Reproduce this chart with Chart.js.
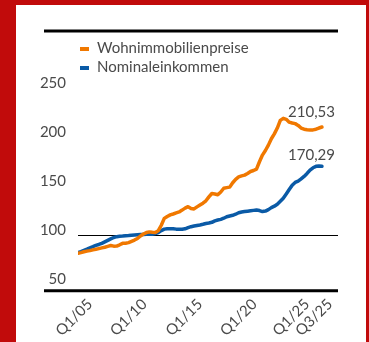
<!DOCTYPE html>
<html lang="de">
<head>
  <meta charset="UTF-8">
  <title>Wohnimmobilienpreise und Nominaleinkommen</title>
  <style>
    html, body { margin: 0; padding: 0; }
    body { width: 369px; height: 342px; background: #c10b0b; position: relative; overflow: hidden; font-family: Lato, sans-serif; }
    .panel { position: absolute; left: 16px; top: 5px; width: 350px; height: 337px; background: #fff; }
    .chart-box { position: absolute; left: 0; top: 0; width: 350px; height: 337px; }
    #legende { position: absolute; left: 64px; top: 33px; font-size: 15px; line-height: 19px; color: #4a4a4a; }
    #legende .eintrag { white-space: nowrap; }
    #legende .farbe { display: inline-block; width: 9px; height: 4px; margin-right: 8px; vertical-align: middle; }
  </style>
</head>
<body>
  <div class="panel">
    <div class="chart-box"><canvas id="grafico"></canvas></div>
    <div id="legende"></div>
  </div>

  <script src="https://cdn.jsdelivr.net/npm/chart.js"></script>

  <script>
    // Quartale Q1/05 bis Q3/25
    const quartale = [];
    for (let j = 5; j <= 25; j++) {
      for (let q = 1; q <= 4; q++) {
        if (j === 25 && q > 3) break;
        quartale.push("Q" + q + "/" + String(j).padStart(2, "0"));
      }
    }

    const wohnimmobilienpreise = [
      81.3, 82.0, 82.8, 83.5, 84.0, 84.8, 85.4, 86.1, 86.8, 87.5,
      88.4, 89.2, 88.6, 88.7, 90.0, 91.5, 91.6, 92.2, 93.5, 94.8,
      96.5, 99.0, 101.0, 102.5, 103.2, 102.8, 102.5, 104.5, 110.0, 117.0,
      119.0, 120.6, 121.5, 122.6, 123.6, 125.5, 127.5, 129.0, 127.2, 126.7,
      128.8, 130.7, 132.6, 135.0, 139.0, 142.5, 142.0, 141.2, 144.0, 147.9,
      148.5, 149.0, 153.5, 157.0, 159.5, 160.5, 161.3, 163.0, 165.0, 166.0,
      167.5, 175.0, 181.8, 186.5, 192.0, 198.5, 203.5, 209.5, 217.3, 219.4,
      218.4, 215.5, 214.6, 214.0, 212.2, 209.5, 208.3, 207.8, 207.5, 207.6,
      208.3, 209.5, 210.53
    ];

    const nominaleinkommen = [
      82.0, 83.0, 84.3, 85.5, 86.8, 88.0, 89.3, 90.3, 91.5, 93.0,
      94.5, 96.0, 97.5, 98.3, 98.8, 99.0, 99.3, 99.5, 99.8, 100.0,
      100.2, 100.4, 100.6, 100.8, 101.0, 100.8, 101.5, 102.5, 104.5, 106.0,
      106.5, 106.3, 106.5, 106.0, 105.8, 105.9, 106.3, 107.5, 108.5, 109.2,
      109.8, 110.3, 111.0, 111.8, 112.3, 113.0, 114.5, 115.4, 116.0, 117.2,
      118.7, 119.5, 120.2, 121.3, 122.8, 123.5, 124.0, 124.4, 124.8, 125.2,
      125.6, 125.0, 124.0, 124.5, 126.0, 128.0, 129.5, 131.5, 134.5, 137.6,
      142.0, 146.5, 151.0, 153.8, 155.2, 157.5, 160.0, 163.0, 166.5, 168.8,
      170.3, 170.6, 170.29
    ];

    const yTicks = [50, 100, 150, 200, 250];
    const xTickLabels = ["Q1/05", "Q1/10", "Q1/15", "Q1/20", "Q1/25", "Q3/25"];
    // seitliche Verschiebung der Achsenbeschriftung, damit sich Q1/25 und Q3/25 nicht ueberlappen
    const xTickShift = [12, 7, 3, -2, -9, 8];

    const grau = "#4a4a4a";
    const schrift = "15px Lato, sans-serif";

    const zuPunkten = (werte) => werte.map((v, i) => ({ x: i, y: v }));

    // Linien oben und unten ueber die ganze Breite
    const linien = {
      id: "linien",
      afterDraw(chart) {
        const { ctx, chartArea } = chart;
        ctx.save();
        ctx.strokeStyle = "#000";
        ctx.lineWidth = 3;
        ctx.beginPath();
        ctx.moveTo(28, 26);
        ctx.lineTo(chartArea.right, 26);
        ctx.moveTo(28, chartArea.bottom);
        ctx.lineTo(chartArea.right, chartArea.bottom);
        ctx.stroke();
        ctx.restore();
      }
    };

    // gedrehte Quartalsbeschriftung der x-Achse
    const xBeschriftung = {
      id: "xBeschriftung",
      afterDraw(chart) {
        const { ctx, chartArea } = chart;
        const sx = chart.scales.x;
        ctx.save();
        ctx.font = schrift;
        ctx.fillStyle = grau;
        ctx.textAlign = "right";
        ctx.textBaseline = "middle";
        xTickLabels.forEach((lbl, k) => {
          const px = sx.getPixelForValue(quartale.indexOf(lbl)) + xTickShift[k];
          ctx.save();
          ctx.translate(px, chartArea.bottom + 11);
          ctx.rotate(-Math.PI / 4);
          ctx.fillText(lbl, 0, 0);
          ctx.restore();
        });
        ctx.restore();
      }
    };

    // Endwerte an den Linien
    const endwerte = {
      id: "endwerte",
      afterDatasetsDraw(chart) {
        const { ctx } = chart;
        ctx.save();
        ctx.font = schrift;
        ctx.fillStyle = grau;
        ctx.textAlign = "right";
        ctx.textBaseline = "middle";
        chart.data.datasets.forEach((ds, i) => {
          const meta = chart.getDatasetMeta(i);
          const last = meta.data[meta.data.length - 1];
          const wert = ds.data[ds.data.length - 1].y;
          ctx.fillText(wert.toFixed(2).replace(".", ","), last.x + 13, last.y - ds.hebung);
        });
        ctx.restore();
      }
    };

    const lienzo = document.getElementById("grafico");
    const grafico = new Chart(lienzo, {
      type: "line",
      data: {
        datasets: [
          {
            label: "Wohnimmobilienpreise",
            data: zuPunkten(wohnimmobilienpreise),
            borderColor: "#f07800",
            backgroundColor: "#f07800",
            hebung: 15
          },
          {
            label: "Nominaleinkommen",
            data: zuPunkten(nominaleinkommen),
            borderColor: "#0a5aa6",
            backgroundColor: "#0a5aa6",
            hebung: 11
          }
        ]
      },
      options: {
        responsive: true,
        maintainAspectRatio: false,
        animation: false,
        layout: { padding: { left: 0, right: 28, top: 60, bottom: 0 } },
        elements: {
          point: { radius: 0 },
          line: { borderWidth: 3.5, tension: 0, borderCapStyle: "round", borderJoinStyle: "round" }
        },
        plugins: {
          legend: { display: false },
          tooltip: { enabled: false }
        },
        scales: {
          x: {
            type: "linear",
            min: 0,
            max: 87.4,
            ticks: { display: false },
            grid: { display: false },
            border: { display: false },
            afterFit(s) { s.height = 51.3; }
          },
          y: {
            min: 43,
            max: 274,
            afterBuildTicks(s) { s.ticks = yTicks.map(v => ({ value: v })); },
            afterFit(s) { s.width = 62; },
            ticks: {
              padding: 12,
              labelOffset: -5,
              color: grau,
              font: { family: "Lato, sans-serif", size: 15 }
            },
            grid: {
              drawTicks: false,
              lineWidth: 1,
              color: (c) => (c.tick && c.tick.value === 100 ? "#000" : "rgba(0,0,0,0)")
            },
            border: { display: false }
          }
        }
      },
      plugins: [linien, xBeschriftung, endwerte]
    });

    // Legende als HTML aus den Datensaetzen
    const legende = document.getElementById("legende");
    grafico.data.datasets.forEach(ds => {
      const zeile = document.createElement("div");
      zeile.className = "eintrag";
      const farbe = document.createElement("span");
      farbe.className = "farbe";
      farbe.style.background = ds.borderColor;
      zeile.appendChild(farbe);
      zeile.appendChild(document.createTextNode(ds.label));
      legende.appendChild(zeile);
    });
  </script>
</body>
</html>
